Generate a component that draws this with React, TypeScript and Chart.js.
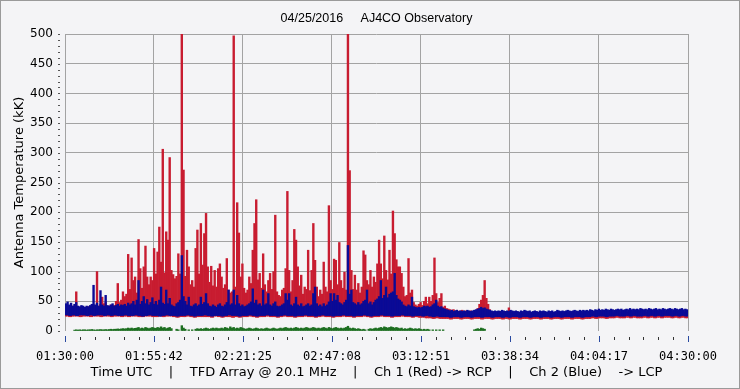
import React, { useEffect, useRef } from "react";
import { Chart, registerables } from "chart.js";

Chart.register(...registerables);

// ---- text ----
const chartTitle = "04/25/2016     AJ4CO Observatory";
const yTitle = "Antenna Temperature (kK)";
const xTitle = "Time UTC    |    TFD Array @ 20.1 MHz    |    Ch 1 (Red) -> RCP    |    Ch 2 (Blue)    -> LCP";
const startTime = "01:30:00";
const xTickLabels = ["01:30:00", "01:55:42", "02:21:25", "02:47:08", "03:12:51", "03:38:34", "04:04:17", "04:30:00"];

// ---- sampling (minutes per sample after 01:30:00) ----
const SAMPLE_MIN = 0.5;

// Ch 1 (red, RCP) per-sample maximum, kK
const redHi = [
  40,38,41,39,42,40,66,40,38,41, 39,40,38,41,40,42,44,40,100,42,
  45,57,46,48,40,42,44,41,43,50, 80,48,52,66,58,62,129,70,123,85,
  91,64,154,105,72,108,143,91,78,91, 85,139,96,133,175,116,306,98,167,153,
  292,102,95,88,92,130,96,500,271,92, 136,108,78,85,74,139,170,96,181,111,
  164,198,108,82,109,76,102,74,105,113, 91,72,78,122,69,64,66,497,74,216,
  165,91,113,72,64,69,91,80,136,181, 221,86,97,72,130,78,66,85,97,70,
  100,195,66,60,58,69,72,105,235,102, 66,85,171,153,108,76,94,62,74,70,
  136,68,102,181,119,74,58,69,62,116, 74,66,211,85,70,121,119,78,149,85,
  72,99,69,500,270,102,70,94,69,80, 64,74,135,128,85,78,102,74,91,82,
  113,153,113,88,160,102,86,136,96,202, 164,120,108,108,97,74,58,60,122,64,
  69,48,44,42,45,48,43,50,57,46, 57,50,60,123,63,48,55,63,40,42,
  38,37,36,35,36,34,35,33,34,35, 33,34,32,33,34,33,32,34,38,45,
  52,60,85,55,45,36,33,32,33,31, 32,33,31,32,33,32,39,31,32,30,
  31,32,30,31,32,31,30,32,31,30, 31,30,32,31,30,31,32,30,31,30,
  32,31,30,31,30,32,31,30,31,32, 30,31,32,30,31,30,32,31,30,31,
  32,31,30,31,32,31,33,32,31,32, 33,32,31,33,32,33,31,32,33,32,
  31,33,32,33,32,31,33,32,33,31, 32,33,31,32,33,32,31,33,32,33,
  32,31,33,32,33,31,32,33,32,31, 33,32,31,33,32,33,32,31,32,33,
];

// Ch 2 (blue, LCP) per-sample maximum, kK
const blueHi = [
  46,49,44,47,42,45,48,42,41,43, 42,40,42,41,43,45,77,44,47,42,
  68,44,42,60,43,42,44,46,42,43, 45,42,44,43,45,42,47,44,46,50,
  44,52,85,45,50,58,46,53,44,48, 56,45,50,44,52,74,47,45,69,46,
  55,44,42,41,46,48,52,127,58,50, 44,57,42,41,44,46,42,44,57,45,
  48,63,46,42,41,44,42,40,44,46, 42,41,44,48,69,44,46,69,44,60,
  46,42,44,41,42,44,46,49,71,47, 52,44,46,42,69,44,46,63,44,42,
  46,49,42,41,42,44,46,63,52,63, 44,42,46,57,44,42,46,41,42,44,
  46,42,44,63,74,46,42,44,41,46, 42,44,49,63,50,63,52,60,48,46,
  44,48,52,144,62,69,48,46,44,48, 44,46,50,52,69,46,49,44,48,52,
  54,58,85,55,60,74,56,62,64,66, 97,60,54,52,49,44,42,41,44,42,
  57,41,40,39,40,39,40,42,41,42, 40,41,44,46,52,42,40,41,38,37,
  36,35,34,35,33,34,35,33,34,33, 34,33,35,34,33,34,35,36,37,38,
  40,38,39,37,36,35,34,33,34,33, 34,33,35,34,33,34,33,35,34,33,
  34,33,32,34,33,35,34,33,34,32, 33,34,33,32,34,33,34,33,32,34,
  33,34,32,33,35,34,33,34,33,34, 35,34,33,34,35,34,33,35,34,35,
  34,35,34,36,35,34,36,35,37,35, 36,35,37,36,35,37,36,35,36,37,
  36,37,35,36,37,36,38,36,37,36, 37,36,38,37,36,37,36,38,37,36,
  37,38,36,37,36,38,37,36,37,38, 37,36,38,37,36,37,38,36,37,36,
];

// per-minute band floors, kK
const redLo = [
  25,24,25,25,24,25,25,24,25,25, 24,25,25,24,25,25,24,25,24,25,
  25,24,24,25,25,24,24,25,24,25, 25,24,23,24,24,25,24,23,24,24,
  24,24,23,25,24,23,24,24,23,24, 23,24,24,25,24,23,24,24,25,24,
  24,23,24,25,24,24,23,24,24,25, 24,24,23,24,25,24,24,23,24,24,
  25,24,24,23,24,24,25,24,23,24, 24,25,24,24,23,24,24,25,24,24,
  23,24,23,23,22,22,21,22,21,21, 21,20,21,21,20,21,21,20,21,21,
  20,21,21,20,21,21,20,21,20,21, 21,20,21,21,20,21,21,20,21,21,
  20,21,21,20,21,21,20,21,21,20, 21,21,22,21,22,22,21,22,22,23,
  22,22,23,22,23,22,22,23,22,23, 22,23,22,23,23,22,23,22,23,22,
];
const blueLo = [
  27,26,27,26,27,27,26,27,26,27, 27,26,27,26,27,26,26,27,26,26,
  27,26,25,26,27,26,26,25,26,27, 26,26,25,26,26,27,26,25,26,26,
  27,26,25,26,26,25,26,27,26,26, 25,26,26,27,26,25,26,26,27,26,
  26,25,26,27,26,26,25,26,26,27, 26,26,25,26,27,26,26,25,26,26,
  27,26,26,25,26,26,27,26,25,26, 26,27,26,26,25,26,26,27,26,26,
  25,26,26,25,26,25,24,25,24,24, 24,23,24,24,23,24,24,23,24,24,
  23,24,24,23,24,24,23,24,23,24, 24,23,24,24,23,24,24,23,24,24,
  23,24,24,23,24,24,23,24,24,23, 24,24,25,24,25,25,24,25,25,26,
  25,25,26,25,26,25,25,26,25,26, 25,26,25,26,26,25,26,25,26,25,
];

// green trace near zero, kK (null = no data)
const greenVals = [
  null,null,null,null,null,1.5,2,1.5,2,1.5, 2,2,1.5,2,2,2.5,2,1.5,2,2,
  2.5,2,2,2.5,2,2.5,3,2.5,3,3, 3.5,3,3.5,4,3.5,4,5,4,5,4,
  4.5,5,6,4,5,4,6,5,4,5, 6,5,4.5,6,5,7,5,6,4,5,
  6,4,null,null,3,2,null,9,5,3, null,2,null,2,null,3,4,3,4,3,
  4,5,4,3,4,5,4,5,4,4, 5,4,6,5,4,7,5,6,4,5,
  4,6,5,4,3,4,5,4,3,4, 5,4,3,4,3,4,5,4,3,4,
  5,4,3,4,5,4,5,6,5,4, 5,4,5,6,5,4,5,4,5,6,
  5,4,5,6,5,4,5,4,5,6, 5,4,6,5,4,5,6,5,4,5,
  4,5,6,8,5,4,5,4,3,4, 3,2,3,2,null,3,4,3,4,5,
  4,5,6,5,7,6,5,6,7,6, 5,6,5,4,5,3,4,3,4,5,
  4,3,4,3,4,3,2,3,2,3, 2,null,2,null,2,null,2,null,2,null,
  null,null,null,null,null,null,null,null,null,null, null,null,null,null,null,null,2,3,4,3,
  5,4,3,
];

// ---- colours ----
const BG = "#f4f4f6";
const GRID = "#a3a3a3";
const RED = "rgb(200, 28, 48)";
const BLUE = "rgb(10, 10, 150)";
const GREEN = "rgb(28, 110, 32)";

const toMinutes = (t: string) => {
  const [h, m, s] = t.split(":").map(Number);
  return h * 60 + m + s / 60;
};
const tickMinutes = xTickLabels.map((t) => toMinutes(t) - toMinutes(startTime));

const minorTicks = {
  id: "minorTicks",
  afterDraw(chart: any) {
    const { ctx, chartArea, scales } = chart;
    const x = scales.x;
    const y = scales.y;
    ctx.save();
    ctx.lineWidth = 1;
    for (let k = 0; k < tickMinutes.length; k++) {
      const px = Math.round(x.getPixelForValue(tickMinutes[k])) + 0.5;
      ctx.strokeStyle = "#2a4aa0";
      ctx.beginPath();
      ctx.moveTo(px, chartArea.bottom + 5);
      ctx.lineTo(px, chartArea.bottom + 11);
      ctx.stroke();
      if (k < tickMinutes.length - 1) {
        const step = (tickMinutes[k + 1] - tickMinutes[k]) / 6;
        ctx.strokeStyle = "#333";
        for (let j = 1; j < 6; j++) {
          const mx = Math.round(x.getPixelForValue(tickMinutes[k] + j * step)) + 0.5;
          ctx.beginPath();
          ctx.moveTo(mx, chartArea.bottom + 6);
          ctx.lineTo(mx, chartArea.bottom + 9);
          ctx.stroke();
        }
      }
    }
    ctx.strokeStyle = "#555";
    for (let v = 0; v <= 500; v += 10) {
      const py = Math.round(y.getPixelForValue(v)) + 0.5;
      ctx.beginPath();
      ctx.moveTo(chartArea.left - 7, py);
      ctx.lineTo(chartArea.left - 5, py);
      ctx.stroke();
    }
    ctx.restore();
  },
};

export default function App() {
  const ref = useRef<HTMLCanvasElement>(null);
  useEffect(() => {
    document.body.style.margin = "0";
    const xOf = (i: number) => (i + 0.5) * SAMPLE_MIN;
    const redData = redHi.map((hi, i) => ({ x: xOf(i), y: [redLo[Math.floor(i / 2)], hi] }));
    const blueData = blueHi.map((hi, i) => ({ x: xOf(i), y: [blueLo[Math.floor(i / 2)], hi] }));
    const greenData = redHi.map((_, i) => ({ x: xOf(i), y: greenVals[i] ?? null }));
    const common = {
      barPercentage: 1,
      categoryPercentage: 1,
      borderWidth: 0,
      borderSkipped: false,
      grouped: false,
    };
    const chart = new Chart(ref.current!, {
      type: "bar",
      data: {
        datasets: [
          { label: "Ch 1 (Red) RCP", data: redData, backgroundColor: RED, order: 3, ...common } as any,
          { label: "Ch 2 (Blue) LCP", data: blueData, backgroundColor: BLUE, order: 2, ...common } as any,
          { label: "Green", data: greenData, backgroundColor: GREEN, order: 1, ...common } as any,
        ],
      },
      options: {
        animation: false,
        responsive: false,
        maintainAspectRatio: false,
        layout: { padding: { left: 0, right: 52, top: 0, bottom: 0 } },
        plugins: {
          legend: { display: false },
          tooltip: { enabled: false },
          title: {
            display: true,
            text: chartTitle,
            fullSize: false,
            color: "#000",
            font: { family: "Liberation Sans", size: 12.5, weight: "normal" },
            padding: { top: 11, bottom: 8 },
          },
        },
        scales: {
          x: {
            type: "linear",
            min: 0,
            max: 180,
            offset: false,
            grid: { color: GRID, drawTicks: false, offset: false },
            border: { display: false },
            afterBuildTicks: (s: any) => {
              s.ticks = tickMinutes.map((v) => ({ value: v }));
            },
            afterFit: (s: any) => {
              s.height = 58;
            },
            ticks: {
              autoSkip: false,
              maxRotation: 0,
              padding: 19,
              color: "#000",
              font: { family: "DejaVu Sans Mono", size: 12 },
              callback: (_v: any, i: number) => xTickLabels[i],
            },
            title: {
              display: true,
              text: xTitle,
              color: "#000",
              font: { family: "DejaVu Sans", size: 13 },
              padding: { top: 0, bottom: 9 },
            },
          },
          y: {
            min: 0,
            max: 500,
            grid: {
              color: (c: any) => (c.tick && c.tick.value === 0 ? "rgba(0,0,0,0)" : GRID),
              drawTicks: false,
            },
            border: { display: false },
            afterFit: (s: any) => {
              s.width = 65;
            },
            ticks: {
              stepSize: 50,
              padding: 12,
              color: "#000",
              font: { family: "DejaVu Sans", size: 12 },
            },
            title: {
              display: true,
              text: yTitle,
              color: "#000",
              font: { family: "DejaVu Sans", size: 13 },
              padding: { top: 12, bottom: 0 },
            },
          },
        },
      } as any,
      plugins: [minorTicks],
    });
    return () => chart.destroy();
  }, []);
  return (
    <div
      style={{
        width: 740,
        height: 389,
        background: BG,
        boxShadow: "inset 0 0 0 1px #9a9a9a",
        position: "relative",
      }}
    >
      <canvas ref={ref} width={740} height={389} style={{ display: "block" }} />
    </div>
  );
}
